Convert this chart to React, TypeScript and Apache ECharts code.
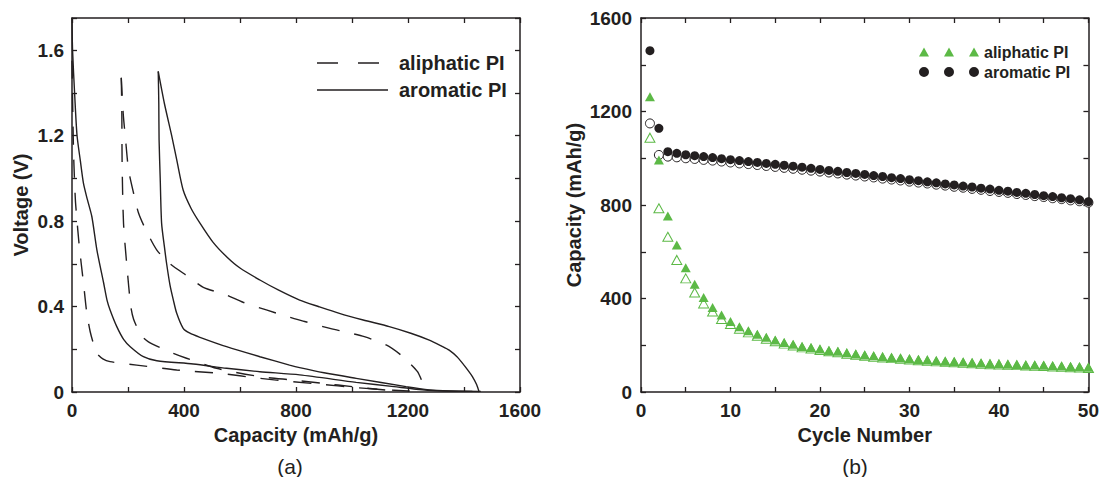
import React, { useEffect, useRef } from 'react';
import * as echarts from 'echarts';

const TEXT = '#231f20';
const GREEN = '#5cb946';
const FONT = '"Liberation Sans", Arial, Helvetica, sans-serif';

// ---------- Panel (a): voltage vs capacity, [capacity (mAh/g), voltage (V)] ----------
const aromaticDischarge1: number[][] = [
  [0, 1.75], [2, 1.6], [10, 1.38], [18, 1.2], [30, 1.08], [41, 0.976], [55, 0.9], [71, 0.82],
  [89, 0.664], [113, 0.51], [125, 0.43], [136, 0.384], [160, 0.306], [185, 0.245], [208, 0.212],
  [255, 0.165], [303, 0.146], [433, 0.131], [552, 0.111], [671, 0.095], [813, 0.08], [1015, 0.045],
  [1150, 0.025], [1229, 0.013], [1300, 0.006], [1460, 0.003],
];
const aromaticDischarge2: number[][] = [
  [308, 1.5], [310, 1.35], [311, 1.18], [315, 1.0], [320, 0.79], [330, 0.68], [338, 0.6], [350, 0.5],
  [362, 0.43], [374, 0.368], [397, 0.298], [421, 0.275], [457, 0.256], [552, 0.212], [671, 0.165],
  [777, 0.126], [813, 0.114], [900, 0.09], [1015, 0.064], [1193, 0.025], [1276, 0.01], [1350, 0.005],
  [1430, 0.003],
];
const aromaticCharge1: number[][] = [
  [308, 1.5], [330, 1.35], [356, 1.2], [375, 1.08], [397, 0.945], [425, 0.86], [457, 0.79], [504, 0.7],
  [552, 0.633], [600, 0.58], [671, 0.524], [740, 0.475], [813, 0.43], [880, 0.4], [955, 0.368],
  [1040, 0.337], [1133, 0.306], [1210, 0.275], [1276, 0.243], [1320, 0.215], [1347, 0.196],
  [1375, 0.165], [1395, 0.134], [1415, 0.1], [1430, 0.072], [1445, 0.035], [1454, 0],
];
const aliphaticDischarge1: number[][] = [
  [0, 1.55], [3, 1.3], [6, 1.1], [12, 0.9], [18, 0.8], [24, 0.71], [33, 0.6], [41, 0.51], [53, 0.368],
  [65, 0.282], [78, 0.22], [89, 0.18], [110, 0.155], [136, 0.142], [231, 0.126], [374, 0.103],
  [528, 0.087], [671, 0.064], [789, 0.048], [900, 0.035], [1000, 0.022], [1100, 0.012], [1200, 0.005],
  [1260, 0.003],
];
const aliphaticDischarge2: number[][] = [
  [176, 1.47], [178, 1.3], [179, 1.07], [184, 0.79], [196, 0.59], [210, 0.4], [220, 0.34], [237, 0.29],
  [250, 0.26], [273, 0.235], [320, 0.205], [362, 0.181], [409, 0.158], [516, 0.111], [671, 0.072],
  [789, 0.056], [900, 0.04], [1000, 0.025], [1100, 0.012], [1170, 0.003],
];
const aliphaticCharge1: number[][] = [
  [176, 1.47], [183, 1.3], [190, 1.2], [202, 1.04], [220, 0.93], [237, 0.84], [261, 0.766], [303, 0.664],
  [350, 0.6], [415, 0.54], [469, 0.49], [552, 0.454], [611, 0.42], [694, 0.384], [777, 0.35], [831, 0.33],
  [896, 0.306], [973, 0.282], [1044, 0.259], [1122, 0.22], [1175, 0.173], [1210, 0.13], [1234, 0.095],
  [1250, 0.05], [1258, 0.017], [1262, 0],
];

// ---------- Panel (b): capacity vs cycle number ----------
const cycleNumbers = [
  1, 2, 3, 4, 5, 6, 7, 8, 9, 10, 11, 12, 13, 14, 15, 16, 17, 18, 19, 20, 21, 22, 23, 24, 25,
  26, 27, 28, 29, 30, 31, 32, 33, 34, 35, 36, 37, 38, 39, 40, 41, 42, 43, 44, 45, 46, 47, 48, 49, 50,
];
const aromaticDischargeCap = [
  1460, 1128, 1028, 1021, 1015, 1011, 1007, 1003, 998, 994, 990, 986, 982, 978, 974, 970, 966, 962, 957, 952,
  948, 944, 939, 935, 931, 926, 922, 917, 913, 908, 904, 899, 895, 890, 886, 881, 877, 872, 868, 863,
  859, 854, 850, 845, 840, 836, 831, 827, 822, 814,
];
const aromaticChargeCap = [
  1149, 1014, 1007, 1004, 1000, 997, 993, 990, 986, 982, 978, 975, 971, 967, 963, 959, 955, 951, 947, 943,
  939, 935, 930, 926, 922, 918, 913, 909, 905, 900, 896, 892, 887, 883, 878, 874, 869, 865, 860, 856,
  852, 847, 843, 838, 834, 829, 825, 820, 816, 810,
];
const aliphaticDischargeCap = [
  1263, 992, 753, 629, 532, 461, 404, 362, 329, 302, 279, 262, 247, 234, 222, 212, 204, 195, 190, 184,
  178, 174, 168, 163, 158, 155, 151, 148, 145, 142, 139, 137, 134, 132, 130, 128, 126, 124, 122, 121,
  119, 118, 116, 115, 114, 112, 111, 109, 108, 106,
];
const aliphaticChargeCap = [
  1088, 786, 664, 565, 486, 426, 379, 344, 312, 291, 271, 255, 241, 228, 217, 207, 199, 191, 186, 180,
  174, 170, 164, 159, 155, 151, 148, 145, 142, 139, 136, 134, 131, 129, 127, 125, 123, 121, 119, 118,
  116, 115, 113, 112, 111, 109, 108, 106, 105, 103,
];

// axis ticks / labels
const voltageLabels = ['0', '0.4', '0.8', '1.2', '1.6'];
const capacityLabelsA = ['0', '400', '800', '1200', '1600'];
const capacityLabelsB = ['0', '400', '800', '1200', '1600'];
const cycleLabels = ['0', '10', '20', '30', '40', '50'];

const LEGEND_NAMES = ['aliphatic PI', 'aromatic PI'];

function labelFilter(labels: string[]) {
  return (v: number) => {
    for (const l of labels) {
      if (Math.abs(parseFloat(l) - v) < 1e-6) return l;
    }
    return '';
  };
}

function axisBase(extra: any) {
  return {
    axisLine: { show: true, onZero: false, lineStyle: { color: TEXT, width: 1.5 } },
    axisTick: { show: true, inside: true, length: 5, lineStyle: { color: TEXT, width: 1.3 } },
    splitLine: { show: false },
    ...extra,
  };
}

function frameAxis(extra: any) {
  return axisBase({ axisLabel: { show: false }, ...extra });
}

const labelStyle = { color: TEXT, fontSize: 19, fontWeight: 'bold', fontFamily: FONT };
const nameStyle = { color: TEXT, fontSize: 20, fontWeight: 'bold', fontFamily: FONT };

function buildOption(): any {
  const line = (name: string, data: number[][], dashed: boolean) => ({
    type: 'line',
    name,
    xAxisIndex: 0,
    yAxisIndex: 0,
    data,
    symbol: 'none',
    showSymbol: false,
    smooth: 0.25,
    lineStyle: { color: TEXT, width: 1.4, type: dashed ? [18, 15] : 'solid' },
    itemStyle: { color: TEXT },
    z: 2,
  });
  const scatter = (name: string, values: number[], symbol: string, color: string, open: boolean) => ({
    type: 'scatter',
    name,
    xAxisIndex: 2,
    yAxisIndex: 2,
    data: values.map((v, i) => [cycleNumbers[i], v]),
    symbol,
    symbolSize: symbol === 'triangle' ? [10, 9] : 9,
    itemStyle: open
      ? { color: '#ffffff', borderColor: color, borderWidth: 1, opacity: 1 }
      : { color, borderWidth: 0, opacity: 1 },
    z: open ? 2 : 3,
  });

  return {
    animation: false,
    backgroundColor: '#ffffff',
    grid: [
      { left: 72, right: 582, top: 18, bottom: 85 },
      { left: 641, right: 13, top: 18, bottom: 85 },
    ],
    xAxis: [
      axisBase({
        type: 'value', gridIndex: 0, position: 'bottom', min: 0, max: 1600, interval: 200,
        axisLabel: { ...labelStyle, margin: 9, formatter: labelFilter(capacityLabelsA) },
        name: 'Capacity (mAh/g)', nameLocation: 'middle', nameGap: 31, nameTextStyle: nameStyle,
      }),
      frameAxis({ type: 'value', gridIndex: 0, position: 'top', min: 0, max: 1600, interval: 200 }),
      axisBase({
        type: 'value', gridIndex: 1, position: 'bottom', min: 0, max: 50, interval: 5,
        axisLabel: { ...labelStyle, margin: 9, formatter: labelFilter(cycleLabels) },
        name: 'Cycle Number', nameLocation: 'middle', nameGap: 31, nameTextStyle: nameStyle,
      }),
      frameAxis({ type: 'value', gridIndex: 1, position: 'top', min: 0, max: 50, interval: 5 }),
    ],
    yAxis: [
      axisBase({
        type: 'value', gridIndex: 0, position: 'left', min: 0, max: 1.75, interval: 0.2,
        axisLabel: { ...labelStyle, margin: 8, formatter: labelFilter(voltageLabels) },
        name: 'Voltage (V)', nameLocation: 'middle', nameGap: 41, nameTextStyle: nameStyle,
      }),
      frameAxis({ type: 'value', gridIndex: 0, position: 'right', min: 0, max: 1.75, interval: 0.2 }),
      axisBase({
        type: 'value', gridIndex: 1, position: 'left', min: 0, max: 1600, interval: 200,
        axisLabel: { ...labelStyle, margin: 9, formatter: labelFilter(capacityLabelsB) },
        name: 'Capacity (mAh/g)', nameLocation: 'middle', nameGap: 57, nameTextStyle: nameStyle,
      }),
      frameAxis({ type: 'value', gridIndex: 1, position: 'right', min: 0, max: 1600, interval: 200 }),
    ],
    legend: [
      {
        orient: 'vertical',
        left: 317,
        top: 53,
        padding: 0,
        itemGap: 7,
        itemWidth: 77,
        itemHeight: 14,
        selectedMode: false,
        textStyle: { color: TEXT, fontSize: 20, fontWeight: 'bold', fontFamily: FONT, lineHeight: 20 },
        data: [
          {
            name: LEGEND_NAMES[0],
            icon: 'path://M0,0H21V1.6H0Z M41,0H62V1.6H41Z M77,0L77,1.6',
            itemStyle: { color: TEXT, borderWidth: 0 },
          },
          {
            name: LEGEND_NAMES[1],
            icon: 'path://M0,0H71V1.6H0Z M77,0L77,1.6',
            itemStyle: { color: TEXT, borderWidth: 0 },
          },
        ],
      },
      {
        orient: 'vertical',
        left: 919,
        top: 44,
        padding: 0,
        itemGap: 4,
        itemWidth: 60,
        itemHeight: 10,
        selectedMode: false,
        textStyle: { color: TEXT, fontSize: 16, fontWeight: 'bold', fontFamily: FONT, lineHeight: 16 },
        data: [
          {
            name: LEGEND_NAMES[0],
            icon: 'path://M0,9L5,0L10,9Z M25,9L30,0L35,9Z M50,9L55,0L60,9Z',
            itemStyle: { color: GREEN, borderWidth: 0 },
          },
          {
            name: LEGEND_NAMES[1],
            icon: 'path://M0,5A5,5 0 1,0 10,5A5,5 0 1,0 0,5Z M25,5A5,5 0 1,0 35,5A5,5 0 1,0 25,5Z M50,5A5,5 0 1,0 60,5A5,5 0 1,0 50,5Z',
            itemStyle: { color: TEXT, borderWidth: 0 },
          },
        ],
      },
    ],
    graphic: [
      {
        type: 'text', x: 290, y: 466,
        style: { text: '(a)', fill: TEXT, fontSize: 21, fontFamily: FONT, align: 'center', verticalAlign: 'middle', textAlign: 'center', textVerticalAlign: 'middle' },
      },
      {
        type: 'text', x: 855, y: 466,
        style: { text: '(b)', fill: TEXT, fontSize: 21, fontFamily: FONT, align: 'center', verticalAlign: 'middle', textAlign: 'center', textVerticalAlign: 'middle' },
      },
    ],
    series: [
      line('aliphatic PI', aliphaticDischarge1, true),
      line('aliphatic PI', aliphaticDischarge2, true),
      line('aliphatic PI', aliphaticCharge1, true),
      line('aromatic PI', aromaticDischarge1, false),
      line('aromatic PI', aromaticDischarge2, false),
      line('aromatic PI', aromaticCharge1, false),
      scatter('aromatic PI charge', aromaticChargeCap, 'circle', TEXT, true),
      scatter('aliphatic PI charge', aliphaticChargeCap, 'triangle', GREEN, true),
      scatter('aromatic PI', aromaticDischargeCap, 'circle', TEXT, false),
      scatter('aliphatic PI', aliphaticDischargeCap, 'triangle', GREEN, false),
    ],
  };
}

export default function App() {
  const ref = useRef<HTMLDivElement>(null);
  useEffect(() => {
    if (!ref.current) return;
    const chart = echarts.init(ref.current, null, { renderer: 'svg' });
    chart.setOption(buildOption());
    return () => chart.dispose();
  }, []);
  return (
    <div
      ref={ref}
      style={{ position: 'fixed', left: 0, top: 0, width: 1102, height: 477, background: '#ffffff' }}
    />
  );
}
